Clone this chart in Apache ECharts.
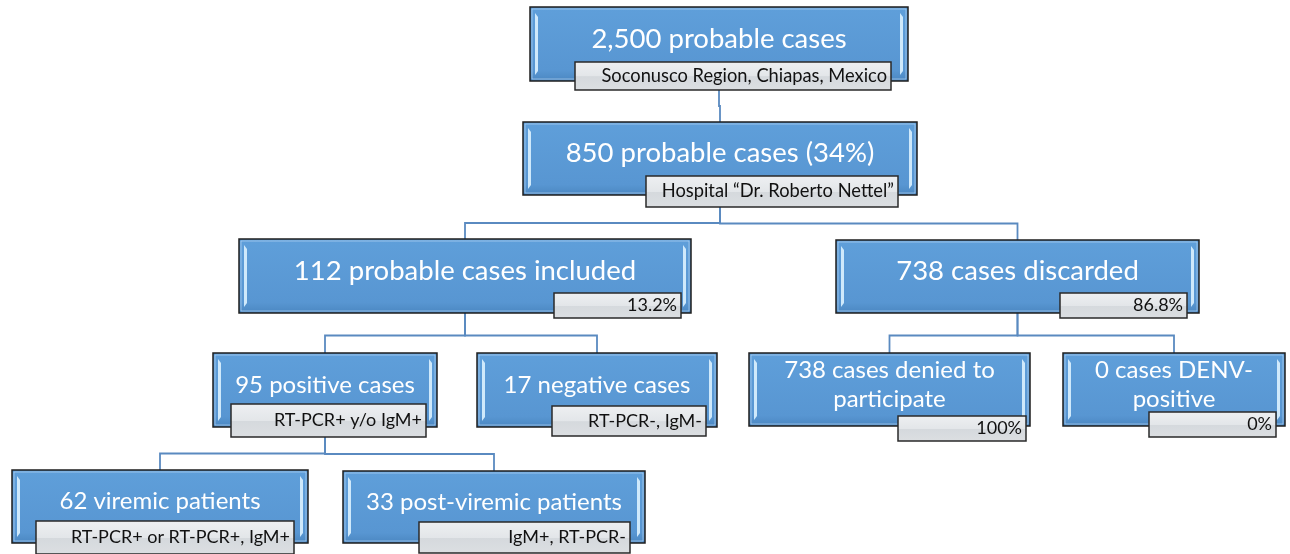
<!DOCTYPE html>
<html>
<head>
<meta charset="utf-8">
<script src="https://cdn.jsdelivr.net/npm/echarts@6/dist/echarts.min.js"></script>
<style>
    html, body { margin: 0; padding: 0; background: #fff; }
    #chart { width: 1290px; height: 554px; }
</style>
</head>
<body>
<div id="chart"></div>
<script>
'use strict';
// flowchart content
var titles = [
    '2,500 probable cases',
    '850 probable cases (34%)',
    '112 probable cases included',
    '738 cases discarded',
    '95 positive cases',
    '17 negative cases',
    '738 cases denied to\nparticipate',
    '0 cases DENV-\npositive',
    '62 viremic patients',
    '33 post-viremic patients'
];
var notes = [
    'Soconusco Region, Chiapas, Mexico',
    'Hospital \u201cDr. Roberto Nettel\u201d',
    '13.2%',
    '86.8%',
    'RT-PCR+ y/o IgM+',
    'RT-PCR-, IgM-',
    '100%',
    '0%',
    'RT-PCR+ or RT-PCR+, IgM+',
    'IgM+, RT-PCR-'
];
var parents = [-1, 0, 1, 1, 2, 2, 3, 3, 4, 4];

// layout (page pixels): [x0, y0, x1, y1]
var boxPos = [
    [530, 7, 908, 81],
    [523, 122, 917, 195],
    [239, 239, 691, 313],
    [836, 240, 1199, 313],
    [213, 353, 437, 427],
    [477, 353, 717, 427],
    [749, 353, 1030, 426],
    [1063, 353, 1285, 426],
    [12, 470, 308, 543],
    [343, 471, 645, 543]
];
var notePos = [
    [575, 62, 891, 90],
    [646, 176, 898, 207],
    [554, 293, 681, 318],
    [1060, 293, 1187, 318],
    [231, 404, 426, 437],
    [552, 406, 706, 436],
    [898, 416, 1026, 441],
    [1149, 412, 1276, 437],
    [36, 521, 294, 554],
    [419, 522, 630, 553]
];
// text sizes shrink per box, as in the original
var titleSize = [27.5, 27.5, 27.5, 27.5, 24, 24, 24, 24, 24, 24];
var noteSize = [18.3, 18.3, 18, 18, 18, 18, 18, 18, 18, 18];

var FONT = 'Lato, "Open Sans", sans-serif';

function rectOf(api, p) {
    var a = api.coord([p[0], p[1]]);
    var b = api.coord([p[2], p[3]]);
    return { x: a[0], y: a[1], width: b[0] - a[0], height: b[1] - a[1] };
}

function renderNode(params, api) {
    var i = params.dataIndex;
    var r = rectOf(api, boxPos[i]);
    var n = rectOf(api, notePos[i]);
    var x0 = r.x, y0 = r.y, x1 = r.x + r.width, y1 = r.y + r.height;

    var stripe = function(x) {
        return {
            type: 'polygon',
            shape: { points: [[x, y0 + 6], [x + 3, y0 + 10], [x + 3, y1 - 10], [x, y1 - 6]] },
            style: { fill: '#cfe9fb' }
        };
    };

    return {
        type: 'group',
        children: [
            {
                type: 'rect',
                shape: r,
                style: {
                    fill: new echarts.graphic.LinearGradient(0, 0, 0, 1, [
                        { offset: 0, color: '#5f9fda' },
                        { offset: 0.85, color: '#5896d2' },
                        { offset: 1, color: '#4a86c0' }
                    ]),
                    stroke: '#1e1e1e',
                    lineWidth: 1.5
                }
            },
            {
                type: 'rect',
                shape: { x: x0 + 2, y: y0 + 2, width: r.width - 4, height: r.height - 4 },
                style: { fill: null, stroke: 'rgba(200,228,250,0.55)', lineWidth: 1 }
            },
            stripe(x0 + 5),
            stripe(x1 - 8),
            {
                type: 'text',
                style: {
                    text: titles[i],
                    x: (x0 + x1) / 2,
                    y: y0 + r.height * 0.43,
                    align: 'center',
                    verticalAlign: 'middle',
                    fill: '#ffffff',
                    font: titleSize[i] + 'px ' + FONT,
                    lineHeight: 29
                }
            },
            {
                type: 'rect',
                shape: n,
                style: {
                    fill: new echarts.graphic.LinearGradient(0, 0, 0, 1, [
                        { offset: 0, color: '#eef0f2' },
                        { offset: 0.5, color: '#e3e6e9' },
                        { offset: 0.52, color: '#d5d9dd' },
                        { offset: 1, color: '#dcdfe2' }
                    ]),
                    stroke: '#2a2a2a',
                    lineWidth: 1.5
                }
            },
            {
                type: 'text',
                style: {
                    text: notes[i],
                    x: n.x + n.width - 4,
                    y: n.y + n.height / 2,
                    align: 'right',
                    verticalAlign: 'middle',
                    fill: '#111111',
                    font: noteSize[i] + 'px ' + FONT
                }
            }
        ]
    };
}

function renderEdge(params, api) {
    var c = params.dataIndex + 1;
    var p = parents[c];
    var pb = boxPos[p], pn = notePos[p], cb = boxPos[c];
    var px = (pb[0] + pb[2]) / 2;
    var cx = (cb[0] + cb[2]) / 2;
    var low = Math.max(pb[3], pn[3]);
    var ey = (low + cb[1]) / 2;
    var pts = [[px, pb[3]], [px, ey], [cx, ey], [cx, cb[1]]].map(function(q) {
        return api.coord(q);
    });
    return {
        type: 'polyline',
        shape: { points: pts },
        style: { fill: null, stroke: '#5a8ac0', lineWidth: 1.8 }
    };
}

var chart = echarts.init(document.getElementById('chart'));
chart.setOption({
    animation: false,
    grid: { left: 0, right: 0, top: 0, bottom: 0 },
    xAxis: { type: 'value', min: 0, max: 1290, show: false },
    yAxis: { type: 'value', min: 0, max: 554, inverse: true, show: false },
    series: [
        {
            type: 'custom',
            renderItem: renderEdge,
            data: parents.slice(1).map(function(p, k) { return [k, p]; }),
            silent: true,
            z: 1
        },
        {
            type: 'custom',
            renderItem: renderNode,
            data: titles.map(function(t, i) { return { value: [i, 0], name: t }; }),
            silent: true,
            z: 2
        }
    ]
});
</script>
</body>
</html>
